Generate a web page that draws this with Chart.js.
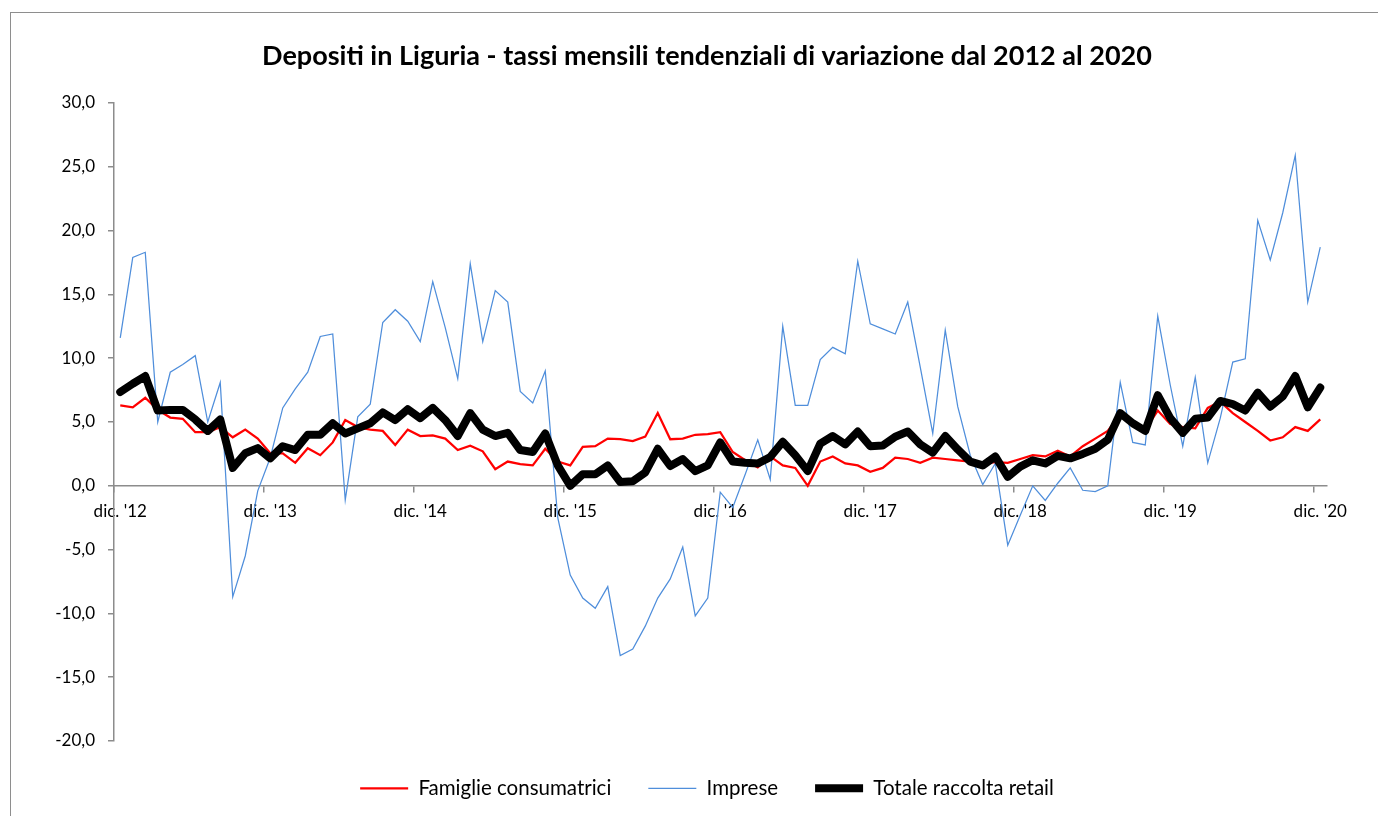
<!DOCTYPE html>
<html>
<head>
<meta charset="utf-8">
<script src="https://cdn.jsdelivr.net/npm/chart.js@4"></script>
<style>
html,body{margin:0;padding:0;background:#fff;overflow:hidden;width:1378px;height:816px;}
#frame{position:absolute;left:10px;top:12px;width:1420px;height:900px;border:1px solid #8e8e8e;box-sizing:border-box;}
#wrap{position:absolute;left:0;top:0;width:1400px;height:816px;}
</style>
</head>
<body>
<div id="frame"></div>
<div id="wrap"><canvas id="c"></canvas></div>
<script>
const titleText = "Depositi in Liguria - tassi mensili tendenziali di variazione dal 2012 al 2020";

const categories = [
"dic. '12",
"gen. '13","feb. '13","mar. '13","apr. '13","mag. '13","giu. '13","lug. '13","ago. '13","set. '13","ott. '13","nov. '13","dic. '13",
"gen. '14","feb. '14","mar. '14","apr. '14","mag. '14","giu. '14","lug. '14","ago. '14","set. '14","ott. '14","nov. '14","dic. '14",
"gen. '15","feb. '15","mar. '15","apr. '15","mag. '15","giu. '15","lug. '15","ago. '15","set. '15","ott. '15","nov. '15","dic. '15",
"gen. '16","feb. '16","mar. '16","apr. '16","mag. '16","giu. '16","lug. '16","ago. '16","set. '16","ott. '16","nov. '16","dic. '16",
"gen. '17","feb. '17","mar. '17","apr. '17","mag. '17","giu. '17","lug. '17","ago. '17","set. '17","ott. '17","nov. '17","dic. '17",
"gen. '18","feb. '18","mar. '18","apr. '18","mag. '18","giu. '18","lug. '18","ago. '18","set. '18","ott. '18","nov. '18","dic. '18",
"gen. '19","feb. '19","mar. '19","apr. '19","mag. '19","giu. '19","lug. '19","ago. '19","set. '19","ott. '19","nov. '19","dic. '19",
"gen. '20","feb. '20","mar. '20","apr. '20","mag. '20","giu. '20","lug. '20","ago. '20","set. '20","ott. '20","nov. '20","dic. '20"
];

const xTickLabels = ["dic. '12","dic. '13","dic. '14","dic. '15","dic. '16","dic. '17","dic. '18","dic. '19","dic. '20"];
const yTicks = [-20, -15, -10, -5, 0, 5, 10, 15, 20, 25, 30];

const famiglie = [
6.3,
6.15, 6.9, 5.95, 5.35, 5.25, 4.2, 4.2, 4.6, 3.8, 4.4, 3.7, 2.55,
2.55, 1.8, 2.95, 2.4, 3.4, 5.15, 4.6, 4.4, 4.3, 3.2, 4.4, 3.9,
3.95, 3.7, 2.8, 3.15, 2.7, 1.3, 1.9, 1.7, 1.6, 2.9, 1.9, 1.6,
3.05, 3.1, 3.7, 3.65, 3.5, 3.85, 5.7, 3.65, 3.7, 4.0, 4.05, 4.2,
2.65, 2.0, 1.45, 2.3, 1.6, 1.4, 0.0, 1.9, 2.3, 1.75, 1.6, 1.1,
1.4, 2.2, 2.1, 1.8, 2.2, 2.1, 2.0, 1.9, 1.75, 1.85, 1.8, 2.1,
2.4, 2.3, 2.75, 2.3, 3.1, 3.7, 4.3, 5.6, 4.9, 4.4, 5.9, 4.85,
4.6, 4.5, 6.1, 6.6, 5.7, 5.0, 4.3, 3.55, 3.8, 4.6, 4.3, 5.2
];

const imprese = [
11.6,
17.9, 18.3, 5.0, 8.9, 9.5, 10.2, 5.0, 8.1, -8.7, -5.5, -0.4, 2.2,
6.1, 7.6, 8.9, 11.7, 11.9, -1.1, 5.4, 6.4, 12.8, 13.8, 12.9, 11.3,
16.0, 12.4, 8.4, 17.4, 11.3, 15.3, 14.4, 7.4, 6.5, 9.0, -2.5, -7.0,
-8.8, -9.6, -7.9, -13.3, -12.8, -11.0, -8.8, -7.3, -4.8, -10.2, -8.8, -0.5,
-1.7, 0.9, 3.6, 0.5, 12.5, 6.3, 6.3, 9.9, 10.85, 10.35, 17.6, 12.7,
12.3, 11.9, 14.4, 9.3, 4.1, 12.2, 6.2, 2.4, 0.1, 1.75, -4.65, -2.3,
0.0, -1.15, 0.2, 1.4, -0.35, -0.45, 0.0, 8.1, 3.4, 3.2, 13.3, 7.9,
3.1, 8.5, 1.8, 5.3, 9.7, 9.95, 20.8, 17.7, 21.4, 25.9, 14.4, 18.7
];

const totale = [
7.35,
8.0, 8.6, 5.9, 5.95, 5.95, 5.2, 4.3, 5.2, 1.4, 2.55, 2.95, 2.15,
3.1, 2.8, 4.0, 4.0, 4.9, 4.1, 4.5, 4.9, 5.75, 5.15, 6.0, 5.3,
6.1, 5.15, 3.9, 5.7, 4.4, 3.9, 4.15, 2.8, 2.65, 4.1, 1.6, 0.0,
0.9, 0.9, 1.6, 0.3, 0.35, 1.05, 2.9, 1.55, 2.1, 1.15, 1.6, 3.4,
1.9, 1.8, 1.75, 2.25, 3.45, 2.4, 1.15, 3.3, 3.9, 3.25, 4.25, 3.1,
3.15, 3.85, 4.25, 3.25, 2.6, 3.9, 2.85, 1.9, 1.6, 2.3, 0.7, 1.5,
2.0, 1.75, 2.35, 2.15, 2.5, 2.9, 3.6, 5.7, 4.9, 4.3, 7.1, 5.3,
4.15, 5.25, 5.35, 6.65, 6.4, 5.9, 7.3, 6.2, 7.0, 8.6, 6.15, 7.7
];

const AXIS_COLOR = '#8c8c8c';
Chart.defaults.font.family = 'Lato, "Open Sans", sans-serif';
Chart.defaults.color = '#000';

new Chart(document.getElementById('c'), {
  type: 'line',
  data: {
    labels: categories,
    datasets: [
      { label: 'Famiglie consumatrici', data: famiglie, borderColor: '#ff0000', backgroundColor: '#ff0000',
        borderWidth: 2.25, pointRadius: 0, tension: 0, order: 2 },
      { label: 'Imprese', data: imprese, borderColor: '#4f8edb', backgroundColor: '#4f8edb',
        borderWidth: 1.25, pointRadius: 0, tension: 0, order: 1 },
      { label: 'Totale raccolta retail', data: totale, borderColor: '#000000', backgroundColor: '#000000',
        borderWidth: 8, borderCapStyle: 'round', borderJoinStyle: 'round', pointRadius: 0, tension: 0, order: 0 }
    ]
  },
  options: {
    responsive: true,
    maintainAspectRatio: false,
    animation: false,
    layout: { padding: { left: 14, right: 0, top: 12, bottom: 7.5 } },
    plugins: {
      title: {
        display: true, text: titleText, color: '#000',
        font: { family: 'Lato', size: 27, weight: 'bold' },
        padding: { top: 28.3, bottom: 30.3 }
      },
      legend: {
        position: 'bottom',
        labels: {
          usePointStyle: true, pointStyle: 'line', pointStyleWidth: 48,
          font: { size: 20.5 }, color: '#000', padding: 37,
          sort: (a, b) => a.datasetIndex - b.datasetIndex
        }
      },
      tooltip: { enabled: false }
    },
    scales: {
      x: {
        position: { y: 0 },
        offset: true,
        grid: {
          offset: true, drawOnChartArea: false, drawTicks: true, tickLength: 6, lineWidth: 1.5,
          color: (c) => (c.type === 'tick' && xTickLabels.includes(categories[c.index])) ? AXIS_COLOR : 'rgba(0,0,0,0)'
        },
        border: { color: AXIS_COLOR, width: 1.5 },
        ticks: {
          autoSkip: false, maxRotation: 0, minRotation: 0, padding: 10,
          font: { size: 17 }, color: '#000',
          callback: (v, i) => xTickLabels.includes(categories[i]) ? categories[i] : ''
        },
        afterFit: (s) => { s.paddingLeft = 0; s.paddingRight = 0; }
      },
      y: {
        min: -20, max: 30,
        afterBuildTicks: (s) => { s.ticks = yTicks.map(v => ({ value: v })); },
        ticks: {
          padding: 13, font: { size: 17 }, color: '#000',
          callback: (v) => Number(v).toFixed(1).replace('.', ',')
        },
        grid: { drawOnChartArea: false, drawTicks: true, tickLength: 6, color: AXIS_COLOR, lineWidth: 1.5 },
        border: { color: AXIS_COLOR, width: 1.5 },
        afterFit: (s) => { s.width = 100; }
      },
      ySpacer: {
        position: 'right', display: true,
        grid: { display: false, drawTicks: false },
        border: { display: false },
        ticks: { display: false },
        afterFit: (s) => { s.width = 73.5; }
      }
    }
  }
});
</script>
</body>
</html>
